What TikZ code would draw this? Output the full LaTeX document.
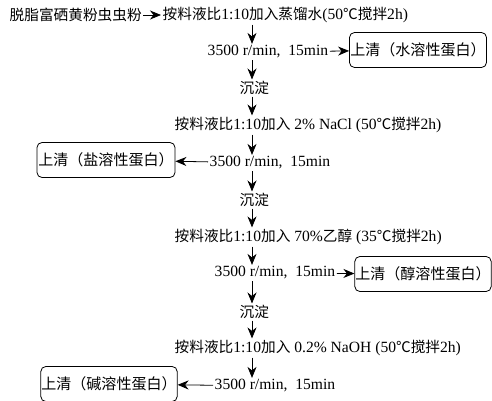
\documentclass[tikz,border=0pt]{standalone}
\usepackage{fontspec}
\setmainfont{Liberation Serif}
\newfontfamily\cjk[Scale=0.94]{Noto Sans CJK SC}
\usetikzlibrary{arrows.meta}
\newcommand\zh[1]{{\cjk #1}}
\begin{document}
\begin{tikzpicture}[x=1pt,y=-1pt,
    txt/.style={anchor=west, inner sep=1.5pt, font=\fontsize{15.6}{18}\selectfont},
    supbox/.style={draw, rounded corners=5pt, thick, inner xsep=0.5pt, inner ysep=3pt, minimum height=35pt, font=\fontsize{16}{18}\selectfont},
    arr/.style={-{Stealth[length=11pt,width=9pt,inset=3.5pt]}, thick}]
  \useasboundingbox (0,0) rectangle (492,401);
  \coordinate (col) at (252,0);

  \node[txt] (src) at (8,15) {\zh{脱脂富硒黄粉虫虫粉}};
  \node[txt] (add1) at (161,15) {\zh{按料液比}1:10\zh{加入蒸馏水}(50\zh{℃搅拌}2h)};
  \node[txt] (spin1) at (206,52) {3500 r/min, \ 15min};
  \node[supbox, minimum width=137pt] (sup1) at (418,50) {\zh{上清（水溶性蛋白）}};
  \node[txt] (sed1) at (238,88) {\zh{沉淀}};

  \node[txt] (add2) at (173,125) {\zh{按料液比}1:10\zh{加入} 2\% NaCl (50\zh{℃搅拌}2h)};
  \node[txt] (spin2) at (208,163) {3500 r/min, \ 15min};
  \node[supbox, minimum width=138pt] (sup2) at (106,160) {\zh{上清（盐溶性蛋白）}};
  \node[txt] (sed2) at (238,200) {\zh{沉淀}};

  \node[txt] (add3) at (173,237) {\zh{按料液比}1:10\zh{加入} 70\%\zh{乙醇} (35\zh{℃搅拌}2h)};
  \node[txt] (spin3) at (213,273) {3500 r/min, \ 15min};
  \node[supbox, minimum width=134pt] (sup3) at (423,274) {\zh{上清（醇溶性蛋白）}};
  \node[txt] (sed3) at (238,312) {\zh{沉淀}};

  \node[txt] (add4) at (173,348) {\zh{按料液比}1:10\zh{加入} 0.2\% NaOH (50\zh{℃搅拌}2h)};
  \node[txt] (spin4) at (213,386) {3500 r/min, \ 15min};
  \node[supbox, minimum width=136pt] (sup4) at (109,384) {\zh{上清（碱溶性蛋白）}};

  \draw[arr] (src) -- (add1);
  \draw[arr] (add1.south -| col) -- (spin1.north -| col);
  \draw[arr] (spin1.south -| col) -- (sed1.north -| col);
  \draw[arr] (sed1.south -| col) -- (add2.north -| col);
  \draw[arr] (add2.south -| col) -- (spin2.north -| col);
  \draw[arr] (spin2.south -| col) -- (sed2.north -| col);
  \draw[arr] (sed2.south -| col) -- (add3.north -| col);
  \draw[arr] (add3.south -| col) -- (spin3.north -| col);
  \draw[arr] (spin3.south -| col) -- (sed3.north -| col);
  \draw[arr] (sed3.south -| col) -- (add4.north -| col);
  \draw[arr] (add4.south -| col) -- (spin4.north -| col);

  \draw[arr] (spin1) -- (sup1);
  \draw[arr] (spin2) -- (sup2);
  \draw[arr] (spin3) -- (sup3);
  \draw[arr] (spin4) -- (sup4);
\end{tikzpicture}
\end{document}
